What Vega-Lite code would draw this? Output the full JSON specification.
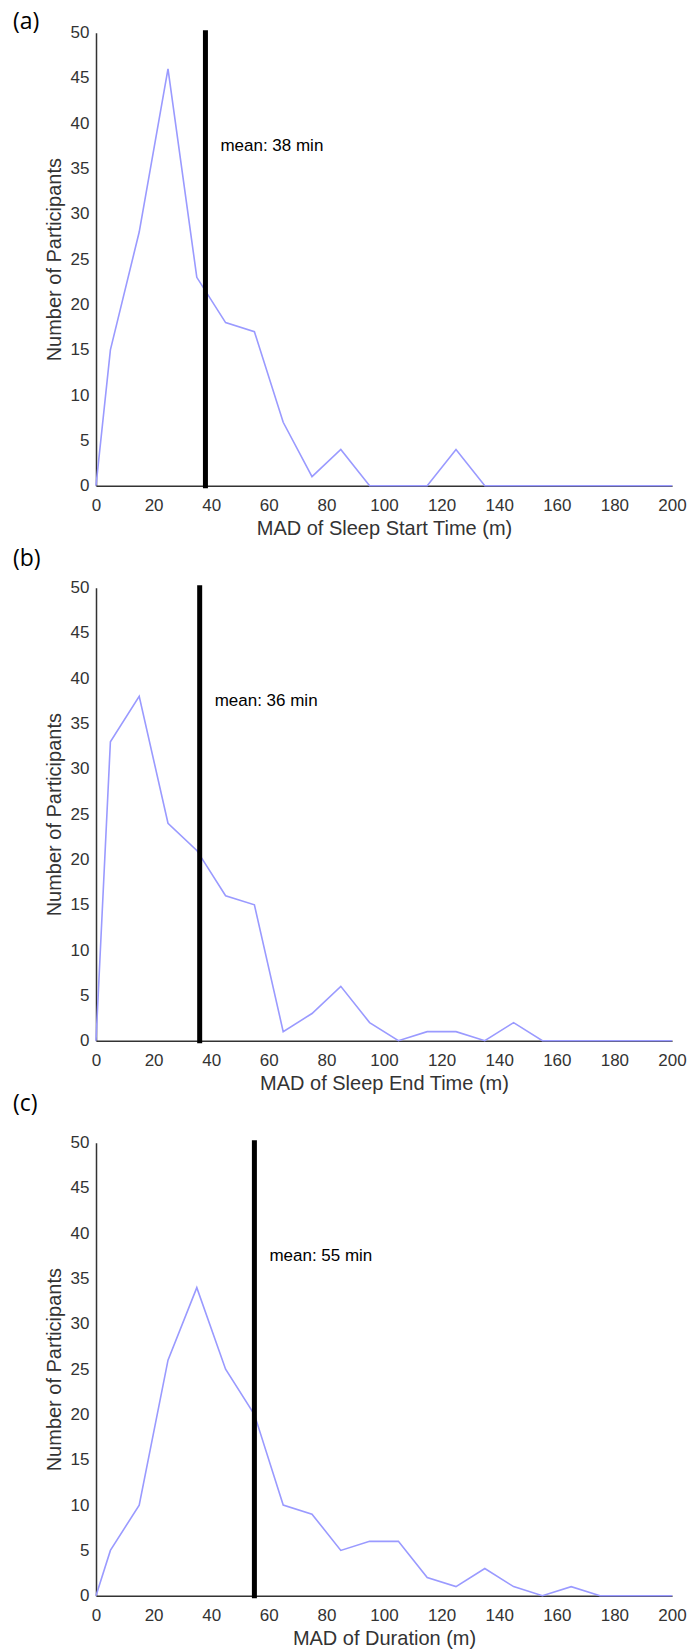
{
  "$schema": "https://vega.github.io/schema/vega-lite/v6.json",
  "background": "white",
  "padding": {"left": 13, "top": 10.7, "right": 0, "bottom": 0},
  "spacing": 102,
  "bounds": "flush",
  "config": {
    "view": {"stroke": null},
    "axis": {
      "domainColor": "#333333",
      "domainWidth": 1.5,
      "ticks": false,
      "grid": false,
      "labelFont": "Liberation Sans",
      "labelFontSize": 17,
      "labelColor": "#333333",
      "labelFlush": false,
      "labelOverlap": false,
      "titleFont": "Liberation Sans",
      "titleFontSize": 20,
      "titleFontWeight": "normal",
      "titleColor": "#333333"
    },
    "axisX": {"labelPadding": 11.5, "titlePadding": 5.5},
    "axisY": {"labelPadding": 7, "titlePadding": 6},
    "title": {"anchor": "start", "frame": "group", "dx": -83, "offset": 0, "font": "Open Sans", "fontSize": 23, "fontWeight": "normal", "color": "black"}
  },
  "vconcat": [
    {
      "title": {"text": "(a)", "dy": 14.2},
      "width": 576,
      "height": 453,
      "layer": [
        {
          "data": {"values": [
            {"mad": 0, "n": 0}, {"mad": 5, "n": 15}, {"mad": 15, "n": 28}, {"mad": 25, "n": 46},
            {"mad": 35, "n": 23}, {"mad": 45, "n": 18}, {"mad": 55, "n": 17}, {"mad": 65, "n": 7},
            {"mad": 75, "n": 1}, {"mad": 85, "n": 4}, {"mad": 95, "n": 0}, {"mad": 105, "n": 0},
            {"mad": 115, "n": 0}, {"mad": 125, "n": 4}, {"mad": 135, "n": 0}, {"mad": 145, "n": 0},
            {"mad": 155, "n": 0}, {"mad": 165, "n": 0}, {"mad": 175, "n": 0}, {"mad": 185, "n": 0},
            {"mad": 195, "n": 0}, {"mad": 200, "n": 0}
          ]},
          "mark": {"type": "line", "color": "#9a9aff", "strokeWidth": 1.6},
          "encoding": {
            "x": {"field": "mad", "type": "quantitative", "scale": {"domain": [0, 200], "nice": false},
                  "axis": {"title": "MAD of Sleep Start Time (m)", "values": [0, 20, 40, 60, 80, 100, 120, 140, 160, 180, 200]}},
            "y": {"field": "n", "type": "quantitative", "scale": {"domain": [0, 50], "nice": false},
                  "axis": {"title": "Number of Participants", "values": [0, 5, 10, 15, 20, 25, 30, 35, 40, 45, 50]}}
          }
        },
        {
          "data": {"values": [{"mean": 38, "label": "mean: 38 min"}]},
          "layer": [
            {"mark": {"type": "rule", "color": "black", "strokeWidth": 5, "strokeCap": "square"}, "encoding": {"x": {"field": "mean", "type": "quantitative"}}},
            {"mark": {"type": "text", "align": "left", "baseline": "middle", "dx": 15, "font": "Liberation Sans", "fontSize": 17, "color": "black"},
             "encoding": {"x": {"field": "mean", "type": "quantitative"}, "y": {"datum": 37.5}, "text": {"field": "label"}}}
          ]
        }
      ]
    },
    {
      "title": {"text": "(b)", "dy": -3.7},
      "width": 576,
      "height": 453,
      "layer": [
        {
          "data": {"values": [
            {"mad": 0, "n": 0}, {"mad": 5, "n": 33}, {"mad": 15, "n": 38}, {"mad": 25, "n": 24},
            {"mad": 35, "n": 21}, {"mad": 45, "n": 16}, {"mad": 55, "n": 15}, {"mad": 65, "n": 1},
            {"mad": 75, "n": 3}, {"mad": 85, "n": 6}, {"mad": 95, "n": 2}, {"mad": 105, "n": 0},
            {"mad": 115, "n": 1}, {"mad": 125, "n": 1}, {"mad": 135, "n": 0}, {"mad": 145, "n": 2},
            {"mad": 155, "n": 0}, {"mad": 165, "n": 0}, {"mad": 175, "n": 0}, {"mad": 185, "n": 0},
            {"mad": 195, "n": 0}, {"mad": 200, "n": 0}
          ]},
          "mark": {"type": "line", "color": "#9a9aff", "strokeWidth": 1.6},
          "encoding": {
            "x": {"field": "mad", "type": "quantitative", "scale": {"domain": [0, 200], "nice": false},
                  "axis": {"title": "MAD of Sleep End Time (m)", "values": [0, 20, 40, 60, 80, 100, 120, 140, 160, 180, 200]}},
            "y": {"field": "n", "type": "quantitative", "scale": {"domain": [0, 50], "nice": false},
                  "axis": {"title": "Number of Participants", "values": [0, 5, 10, 15, 20, 25, 30, 35, 40, 45, 50]}}
          }
        },
        {
          "data": {"values": [{"mean": 36, "label": "mean: 36 min"}]},
          "layer": [
            {"mark": {"type": "rule", "color": "black", "strokeWidth": 5, "strokeCap": "square"}, "encoding": {"x": {"field": "mean", "type": "quantitative"}}},
            {"mark": {"type": "text", "align": "left", "baseline": "middle", "dx": 15, "font": "Liberation Sans", "fontSize": 17, "color": "black"},
             "encoding": {"x": {"field": "mean", "type": "quantitative"}, "y": {"datum": 37.5}, "text": {"field": "label"}}}
          ]
        }
      ]
    },
    {
      "title": {"text": "(c)", "dy": -13.8},
      "width": 576,
      "height": 453,
      "layer": [
        {
          "data": {"values": [
            {"mad": 0, "n": 0}, {"mad": 5, "n": 5}, {"mad": 15, "n": 10}, {"mad": 25, "n": 26},
            {"mad": 35, "n": 34}, {"mad": 45, "n": 25}, {"mad": 55, "n": 20}, {"mad": 65, "n": 10},
            {"mad": 75, "n": 9}, {"mad": 85, "n": 5}, {"mad": 95, "n": 6}, {"mad": 105, "n": 6},
            {"mad": 115, "n": 2}, {"mad": 125, "n": 1}, {"mad": 135, "n": 3}, {"mad": 145, "n": 1},
            {"mad": 155, "n": 0}, {"mad": 165, "n": 1}, {"mad": 175, "n": 0}, {"mad": 185, "n": 0},
            {"mad": 195, "n": 0}, {"mad": 200, "n": 0}
          ]},
          "mark": {"type": "line", "color": "#9a9aff", "strokeWidth": 1.6},
          "encoding": {
            "x": {"field": "mad", "type": "quantitative", "scale": {"domain": [0, 200], "nice": false},
                  "axis": {"title": "MAD of Duration (m)", "values": [0, 20, 40, 60, 80, 100, 120, 140, 160, 180, 200]}},
            "y": {"field": "n", "type": "quantitative", "scale": {"domain": [0, 50], "nice": false},
                  "axis": {"title": "Number of Participants", "values": [0, 5, 10, 15, 20, 25, 30, 35, 40, 45, 50]}}
          }
        },
        {
          "data": {"values": [{"mean": 55, "label": "mean: 55 min"}]},
          "layer": [
            {"mark": {"type": "rule", "color": "black", "strokeWidth": 5, "strokeCap": "square"}, "encoding": {"x": {"field": "mean", "type": "quantitative"}}},
            {"mark": {"type": "text", "align": "left", "baseline": "middle", "dx": 15, "font": "Liberation Sans", "fontSize": 17, "color": "black"},
             "encoding": {"x": {"field": "mean", "type": "quantitative"}, "y": {"datum": 37.5}, "text": {"field": "label"}}}
          ]
        }
      ]
    }
  ]
}
